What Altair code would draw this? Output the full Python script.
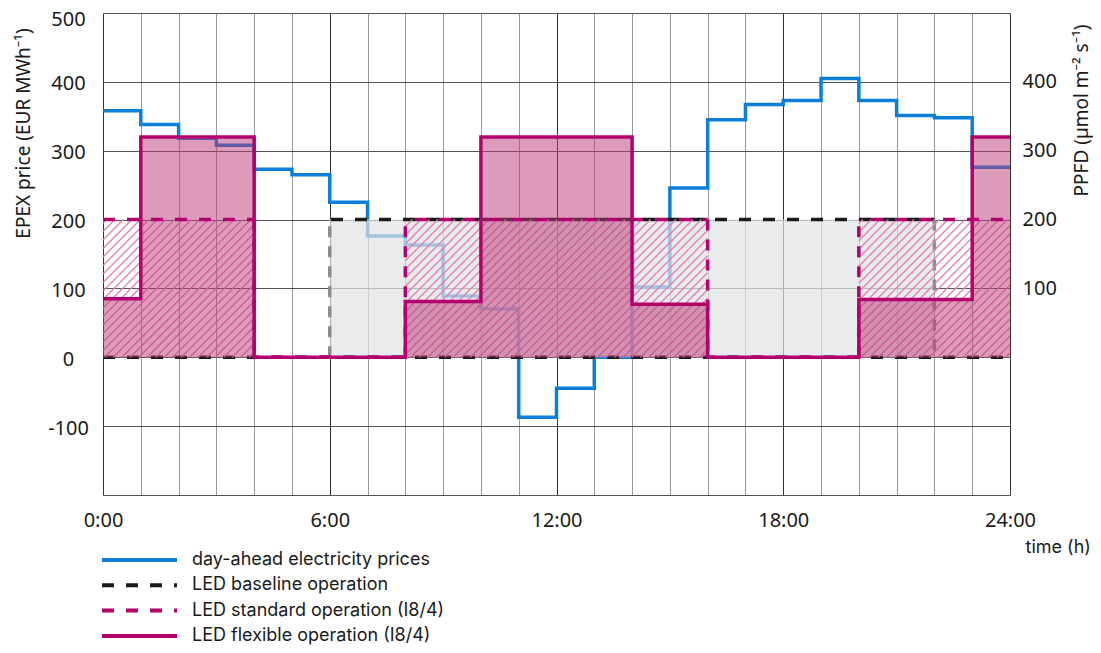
import altair as alt
import pandas as pd
import numpy as np

# ---------------- data (hourly values, hour h covers h..h+1) ----------------
price = [358, 338, 318, 308, 273, 265, 225, 176, 163, 89, 70, -87,
         -45, 0, 102, 246, 345, 367, 373, 405, 373, 351, 348, 276]
baseline = [0, 0, 0, 0, 0, 0, 200, 200, 200, 200, 200, 200,
            200, 200, 200, 200, 200, 200, 200, 200, 200, 200, 0, 0]
standard = [200, 200, 200, 200, 0, 0, 0, 0, 200, 200, 200, 200,
            200, 200, 200, 200, 0, 0, 0, 0, 200, 200, 200, 200]
flexible = [85, 320, 320, 320, 0, 0, 0, 0, 81, 81, 320, 320,
            320, 320, 77, 77, 0, 0, 0, 0, 84, 84, 84, 320]

x_tick_values = list(range(0, 25))
y_left_values = [-200, -100, 0, 100, 200, 300, 400, 500]
y_right_values = [100, 200, 300, 400]
legend_labels = ["day-ahead electricity prices", "LED baseline operation",
                 "LED standard operation (I8/4)", "LED flexible operation (I8/4)"]

# ---------------- styling ----------------
W, H = 907, 482
XMIN, XMAX = 0, 24
YMIN, YMAX = -200, 500
BLUE = "#0a7fd9"
MAG = "#b4006e"
PINK_FILL = "#b93773"
HATCH = "#e27fb1"
GRAY_FILL = "#dfe2e4"
GRAY_LINE = "#8c8c8c"
BLACK = "#1a1a1a"
PERIOD = 24.0
DASH = [12, 12]
LW = 3.5
TICK_FONT = "Noto Sans"
LEG_FONT = "Inter"

pxh = W / (XMAX - XMIN)
pyu = H / (YMAX - YMIN)

xs = alt.Scale(domain=[XMIN, XMAX], nice=False, zero=False)
ys = alt.Scale(domain=[YMIN, YMAX], nice=False, zero=False)

x_axis = alt.Axis(
    values=x_tick_values,
    labelExpr="datum.value % 6 === 0 ? datum.value + ':00' : ''",
    labelFont=TICK_FONT, labelFontSize=20, labelColor=BLACK, labelPadding=15,
    labelFlush=False, labelOverlap=False,
    tickSize=0, ticks=False, domain=False,
    grid=True,
    gridColor={"condition": {"test": "datum.value % 6 === 0", "value": "#333333"},
               "value": "#9a9a9a"},
    gridWidth=1,
    title="time (h)", titleFont=LEG_FONT, titleFontSize=18, titleFontWeight="normal",
    titleColor=BLACK, titleX=922, titleY=57, titleAlign="left", titleBaseline="alphabetic",
)
y_axis_left = alt.Axis(
    values=y_left_values,
    labelExpr="datum.value === -200 ? '' : '' + datum.value",
    labelFont=TICK_FONT, labelFontSize=20, labelColor=BLACK, labelPadding=35,
    labelAlign="center", labelBaseline="middle", labelFlush=False, labelOverlap=False,
    labelOffset={"condition": {"test": "datum.value === 500", "value": 6}, "value": 2},
    tickSize=0, ticks=False, domain=False,
    grid=True, gridColor="#555555", gridWidth=1,
    title="EPEX price (EUR MWh⁻¹)", titleFont=TICK_FONT, titleFontSize=19,
    titleFontWeight="normal", titleColor=BLACK, titleX=-80, titleY=120,
    titleAlign="center", titleBaseline="middle", titleAngle=270,
)
y_axis_right = alt.Axis(
    orient="right", values=y_right_values,
    labelFont=TICK_FONT, labelFontSize=20, labelColor=BLACK, labelPadding=12,
    labelAlign="left", labelBaseline="middle", labelFlush=False, labelOverlap=False,
    tickSize=0, ticks=False, domain=False, grid=False,
    title="PPFD (µmol m⁻² s⁻¹)", titleFont=TICK_FONT, titleFontSize=19,
    titleFontWeight="normal", titleColor=BLACK, titleX=71, titleY=97,
    titleAlign="center", titleBaseline="middle", titleAngle=270,
)


def X(f):
    return alt.X(f, type="quantitative", scale=xs, axis=x_axis)


def Y(f):
    return alt.Y(f, type="quantitative", scale=ys, axis=y_axis_left)


def step_df(vals):
    return pd.DataFrame({"t": list(range(len(vals) + 1)), "v": list(vals) + [vals[-1]]})


def runs(vals):
    out, s = [], 0
    for i in range(1, len(vals) + 1):
        if i == len(vals) or vals[i] != vals[s]:
            out.append((s, i, vals[s]))
            s = i
    return out


def transitions(vals):
    return [(i, vals[i - 1], vals[i]) for i in range(1, len(vals)) if vals[i] != vals[i - 1]]


layers = []

# day-ahead price (drawn first, fills lie over it)
layers.append(
    alt.Chart(step_df(price)).mark_line(interpolate="step-after", color=BLUE,
                                        strokeWidth=LW, strokeJoin="miter")
    .encode(x=X("t"), y=Y("v"))
)

# baseline fill (grey)
layers.append(
    alt.Chart(step_df(baseline)).mark_area(interpolate="step-after", color=GRAY_FILL,
                                           opacity=0.7)
    .encode(x=X("t"), y=Y("v"), y2=alt.datum(0))
)

# black dashed zero line across the day
layers.append(
    alt.Chart(pd.DataFrame({"t": [XMIN], "t2": [XMAX], "v": [0]}))
    .mark_rule(color=BLACK, strokeWidth=LW, strokeDash=DASH)
    .encode(x=X("t"), x2="t2", y=Y("v"))
)

# baseline horizontal runs (black dashed) with global dash phase
for s, e, v in runs(baseline):
    if v == 0:
        continue
    off = (s * pxh - 12) % PERIOD
    layers.append(
        alt.Chart(pd.DataFrame({"t": [s], "t2": [e], "v": [v]}))
        .mark_rule(color=BLACK, strokeWidth=LW, strokeDash=DASH, strokeDashOffset=off)
        .encode(x=X("t"), x2="t2", y=Y("v"))
    )

# baseline vertical transitions (grey dashed)
bt = transitions(baseline)
layers.append(
    alt.Chart(pd.DataFrame({"t": [b[0] for b in bt], "v": [b[1] for b in bt],
                            "v2": [b[2] for b in bt]}))
    .mark_rule(color=GRAY_LINE, strokeWidth=LW, strokeDash=[11, 9])
    .encode(x=X("t"), y=Y("v"), y2="v2")
)

# hatch of standard operation area (45 deg in pixel space)
SP = 8.5
hatch = []
for s, e, v in runs(standard):
    if v <= 0:
        continue
    Xs, Xe = s * pxh, e * pxh
    U0, U1 = (0 - YMIN) * pyu, (v - YMIN) * pyu
    kmin = int(np.floor((Xs - U1) / SP)) - 1
    kmax = int(np.ceil((Xe - U0) / SP)) + 1
    for k in range(kmin, kmax + 1):
        c = k * SP
        xa = max(Xs, U0 + c)
        xb = min(Xe, U1 + c)
        if xb - xa > 0.5:
            hatch.append({"t": xa / pxh, "v": (xa - c) / pyu + YMIN,
                          "t2": xb / pxh, "v2": (xb - c) / pyu + YMIN})
layers.append(
    alt.Chart(pd.DataFrame(hatch)).mark_rule(color=HATCH, strokeWidth=1.3)
    .encode(x=X("t"), y=Y("v"), x2="t2", y2="v2")
)

# flexible operation fill
layers.append(
    alt.Chart(step_df(flexible)).mark_area(interpolate="step-after", color=PINK_FILL,
                                           opacity=0.5)
    .encode(x=X("t"), y=Y("v"), y2=alt.datum(0))
)

# standard operation (magenta dashed): horizontal runs + vertical transitions
for s, e, v in runs(standard):
    off = (s * pxh) % PERIOD
    layers.append(
        alt.Chart(pd.DataFrame({"t": [s], "t2": [e], "v": [v]}))
        .mark_rule(color=MAG, strokeWidth=LW, strokeDash=DASH, strokeDashOffset=off)
        .encode(x=X("t"), x2="t2", y=Y("v"))
    )
st = transitions(standard)
layers.append(
    alt.Chart(pd.DataFrame({"t": [b[0] for b in st], "v": [b[1] for b in st],
                            "v2": [b[2] for b in st]}))
    .mark_rule(color=MAG, strokeWidth=LW, strokeDash=[11, 9])
    .encode(x=X("t"), y=Y("v"), y2="v2")
)

# flexible operation (solid magenta)
layers.append(
    alt.Chart(step_df(flexible)).mark_line(interpolate="step-after", color=MAG,
                                           strokeWidth=LW, strokeJoin="miter")
    .encode(x=X("t"), y=Y("v"))
)

# ---------------- legend (below the plot) ----------------
leg_colors = [BLUE, BLACK, MAG, MAG]
leg_dash = [None, DASH, DASH, None]
for i, lab in enumerate(legend_labels):
    ly = 547 + i * 25.3
    one = pd.DataFrame({"d": [0]})
    kw = dict(color=leg_colors[i], strokeWidth=4)
    if leg_dash[i] is not None:
        kw["strokeDash"] = leg_dash[i]
    layers.append(
        alt.Chart(one).mark_rule(**kw)
        .encode(x=alt.value(-1), x2=alt.value(74), y=alt.value(ly))
    )
    layers.append(
        alt.Chart(one).mark_text(text=lab, align="left", baseline="middle",
                                 font=LEG_FONT, fontSize=18, color=BLACK)
        .encode(x=alt.value(89), y=alt.value(ly))
    )

main = alt.layer(*layers)

# right axis (PPFD) on the same numeric scale
right = (
    alt.Chart(pd.DataFrame({"t": [0], "v": [0]})).mark_point(opacity=0)
    .encode(x=X("t"), y=alt.Y("v:Q", scale=alt.Scale(domain=[YMIN, YMAX], nice=False,
                                                      zero=False), axis=y_axis_right))
)

chart = (
    alt.layer(main, right)
    .resolve_scale(y="independent")
    .properties(width=W, height=H, autosize=alt.AutoSizeParams(type="none"),
                padding={"left": 95, "top": 5, "right": 83, "bottom": 150})
    .configure_view(strokeWidth=0)
)

chart.save("out.html", embed_options={"renderer": "svg", "actions": False})
